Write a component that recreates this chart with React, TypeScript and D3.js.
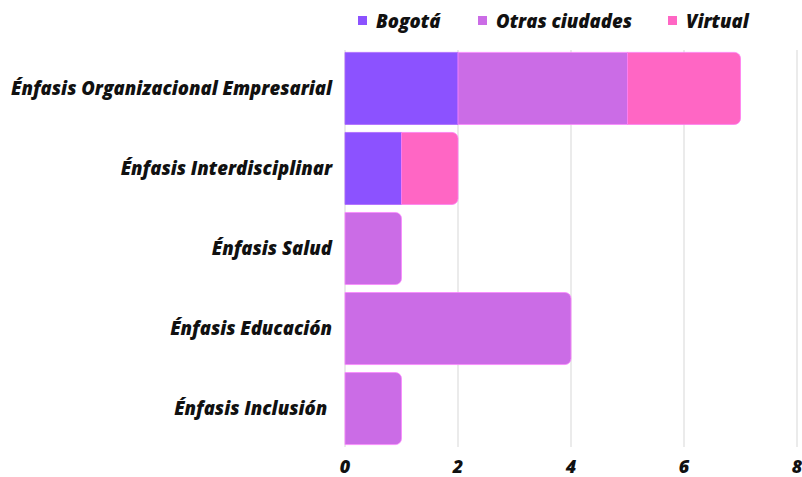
import React, { useRef, useEffect } from 'react'
import * as d3 from 'd3'

const categories = [
  'Énfasis Organizacional Empresarial',
  'Énfasis Interdisciplinar',
  'Énfasis Salud',
  'Énfasis Educación',
  'Énfasis Inclusión ',
]
const seriesNames = ['Bogotá', 'Otras ciudades', 'Virtual']
const bogota = [2, 1, 0, 0, 0]
const otrasCiudades = [3, 0, 1, 4, 1]
const virtual = [2, 1, 0, 0, 0]
const xTicks = [0, 2, 4, 6, 8]
const colors = ['#8c52ff', '#cb6ce6', '#ff66c4']

const width = 802
const height = 477
const margin = { top: 50, right: 5, bottom: 30, left: 345 }

const FONT = "'Open Sans', sans-serif"

// path for a rect with only the right corners rounded
function barPath(x0: number, x1: number, y: number, h: number, r: number, roundRight: boolean) {
  const w = x1 - x0
  if (!roundRight || w < r * 2) {
    return `M${x0},${y}H${x1}V${y + h}H${x0}Z`
  }
  return `M${x0},${y}H${x1 - r}A${r},${r} 0 0 1 ${x1},${y + r}V${y + h - r}A${r},${r} 0 0 1 ${x1 - r},${y + h}H${x0}Z`
}

export default function App() {
  const svgRef = useRef<SVGSVGElement>(null)

  useEffect(() => {
    if (!svgRef.current) return
    const svg = d3.select(svgRef.current)
    svg.selectAll('*').remove()

    const rows = categories.map((c, i) => ({
      category: c,
      'Bogotá': bogota[i],
      'Otras ciudades': otrasCiudades[i],
      'Virtual': virtual[i],
    }))

    const x = d3.scaleLinear().domain([0, 8]).range([margin.left, width - margin.right])
    const y = d3.scaleBand()
      .domain(categories)
      .range([margin.top, height - margin.bottom])
      .paddingInner(0.1)
      .paddingOuter(0.03)

    // grid
    svg.append('g')
      .selectAll('line')
      .data(xTicks)
      .join('line')
      .attr('x1', d => x(d))
      .attr('x2', d => x(d))
      .attr('y1', margin.top)
      .attr('y2', height - margin.bottom)
      .attr('stroke', '#dedede')
      .attr('stroke-width', 1.2)

    const stacked = d3.stack<any>().keys(seriesNames)(rows)

    // the last non-zero segment in each row gets the rounded end
    const lastKey = rows.map(r => {
      let k = ''
      seriesNames.forEach(s => { if (r[s] > 0) k = s })
      return k
    })

    stacked.forEach((layer, si) => {
      svg.append('g')
        .selectAll('path')
        .data(layer.map((d, i) => ({ d, i })).filter(o => o.d[1] - o.d[0] > 0))
        .join('path')
        .attr('d', o => barPath(
          x(o.d[0]), x(o.d[1]),
          y(categories[o.i])!, y.bandwidth(), 6,
          lastKey[o.i] === seriesNames[si]
        ))
        .attr('fill', colors[si])
        .attr('stroke', d3.color(colors[si])!.brighter(0.6).formatHex())
        .attr('stroke-width', 0.8)
    })

    // category labels
    svg.append('g')
      .selectAll('text')
      .data(categories)
      .join('text')
      .attr('x', 332)
      .attr('y', d => y(d)! + y.bandwidth() / 2)
      .attr('dy', '0.35em')
      .attr('text-anchor', 'end')
      .style('white-space', 'pre')
      .attr('font-family', FONT)
      .attr('font-weight', 800)
      .attr('font-style', 'italic')
      .attr('font-size', 18.5)
      .attr('fill', '#111')
      .text(d => d)

    // x tick labels
    svg.append('g')
      .selectAll('text')
      .data(xTicks)
      .join('text')
      .attr('x', d => x(d))
      .attr('y', 473)
      .attr('text-anchor', 'middle')
      .attr('font-family', FONT)
      .attr('font-weight', 800)
      .attr('font-style', 'italic')
      .attr('font-size', 18)
      .attr('fill', '#111')
      .text(d => d)

    // legend
    const legendX = [358, 478, 668]
    const legend = svg.append('g')
      .selectAll('g')
      .data(seriesNames)
      .join('g')
      .attr('transform', (_, i) => `translate(${legendX[i]},0)`)
    legend.append('rect')
      .attr('x', 0)
      .attr('y', 16)
      .attr('width', 9)
      .attr('height', 9)
      .attr('fill', (_, i) => colors[i])
    legend.append('text')
      .attr('x', 18)
      .attr('y', 28)
      .attr('font-family', FONT)
      .attr('font-weight', 800)
      .attr('font-style', 'italic')
      .attr('font-size', 18.5)
      .attr('fill', '#111')
      .text(d => d)
  }, [])

  return (
    <svg
      ref={svgRef}
      width={width}
      height={height}
      style={{ position: 'absolute', left: 0, top: 0, background: '#fff' }}
    />
  )
}
